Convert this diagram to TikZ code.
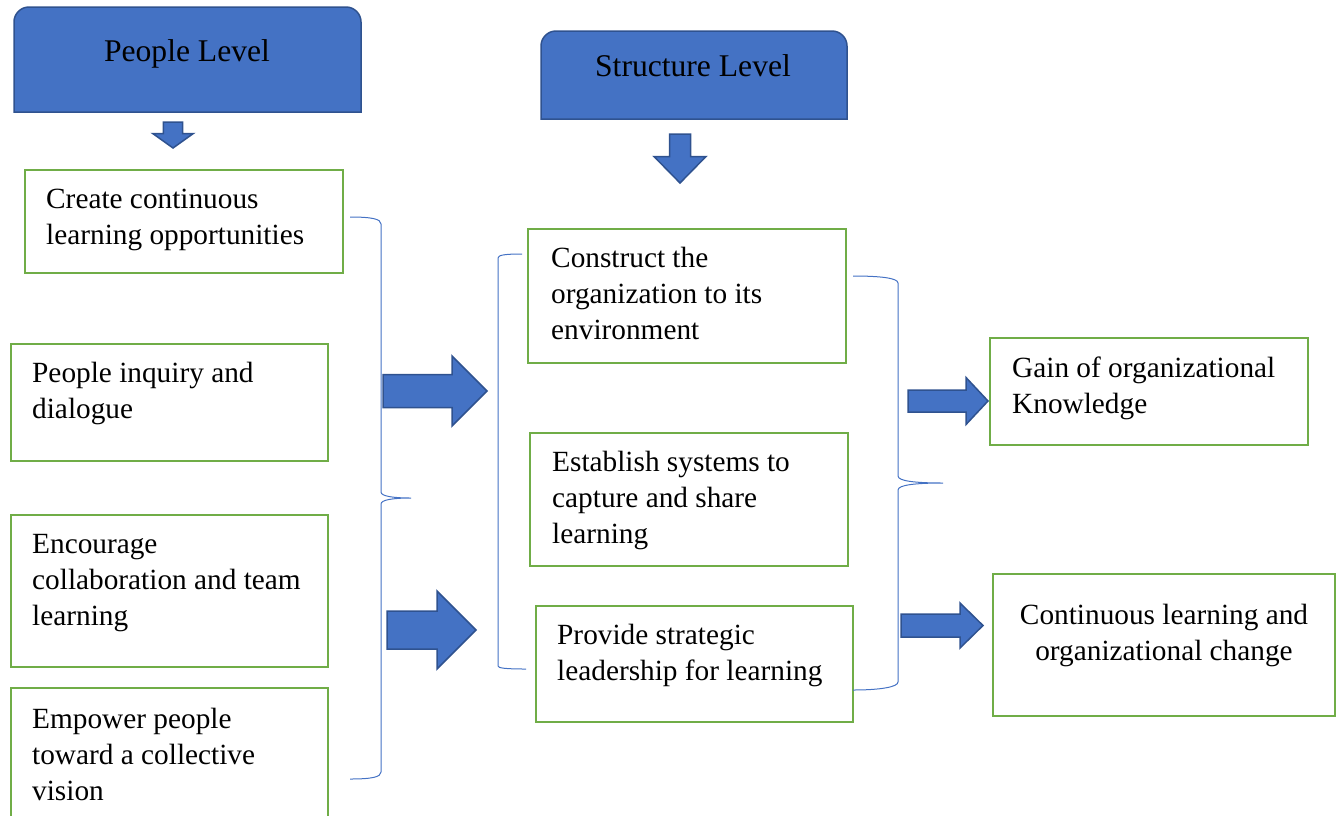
\documentclass[tikz,border=0pt]{standalone}
\usepackage{fontspec}
\setmainfont{Liberation Serif}
\definecolor{hdrblue}{HTML}{4472C4}
\definecolor{hdredge}{HTML}{2F528F}
\definecolor{boxgreen}{HTML}{70AD47}
\tikzset{
  hdr/.style={fill=hdrblue,draw=hdredge,line width=1.5pt},
  hdrtxt/.style={inner sep=0pt,font=\rmfamily\fontsize{31.6}{38}\selectfont},
  gbox/.style={draw=boxgreen,line width=2.5pt,inner sep=0pt},
  txt/.style={inner sep=0pt,align=left,anchor=base west,font=\rmfamily\fontsize{29.3}{36}\selectfont},
  brc/.style={draw=hdrblue,line width=1pt},
  blk/.style={fill=hdrblue,draw=hdredge,line width=1.5pt,line join=miter},
}

\begin{document}
\begin{tikzpicture}[x=1pt,y=-1pt]
    \useasboundingbox (0,0) rectangle (1340,815);
    \clip (0,0) rectangle (1340,815);
    % level headers
    \draw[hdr] (14,112) [rounded corners=15pt] -- (14,7) -- (361,7) [sharp corners] -- (361,112) -- cycle;
    \draw[hdr] (541,119) [rounded corners=15pt] -- (541,31) -- (847,31) [sharp corners] -- (847,119) -- cycle;
    \node[hdrtxt,anchor=base] (people) at (187,61.7) {People Level};
    \node[hdrtxt,anchor=base] (structure) at (693,76) {Structure Level};
    % down arrows
    \foreach \x/\y/\l/\hl/\s/\h in {173/122/26/14.5/9.7/20.3, 680/134/49/26.5/10.5/26} {
        \draw[blk] (\x-\s,\y) -- (\x+\s,\y) -- (\x+\s,\y+\l-\hl) -- (\x+\h,\y+\l-\hl)
          -- (\x,\y+\l) -- (\x-\h,\y+\l-\hl) -- (\x-\s,\y+\l-\hl) -- cycle;
      }
    % green boxes
    \foreach \n/\x/\y/\w/\h in {b1/184/221.5/318/103, b2/169.5/402.5/317/117,
        b3/169.5/591/317/152, b4/169.5/759/317/142, b5/687/296/318/134,
        b6/689/499.5/318/133, b7/694.5/664/317/116, b8/1149/391.5/318/107,
        b9/1164/645/342/142} {
        \node[gbox,minimum width=\w pt,minimum height=\h pt] (\n) at (\x,\y) {};
      }
    % texts, placed by the baseline of their last line
    \node[txt] (t1) at (46,244) {Create continuous\\learning opportunities};
    \node[txt] (t2) at (32,418) {People inquiry and\\dialogue};
    \node[txt] (t3) at (32,625) {Encourage\\collaboration and team\\learning};
    \node[txt] (t4) at (32,800) {Empower people\\toward a collective\\vision};
    \node[txt] (t5) at (551,339.5) {Construct the\\organization to its\\environment};
    \node[txt] (t6) at (552,543) {Establish systems to\\capture and share\\learning};
    \node[txt] (t7) at (557,680) {Provide strategic\\leadership for learning};
    \node[txt] (t8) at (1012,413) {Gain of organizational\\Knowledge};
    \node[txt,align=center,anchor=base] (t9) at (1164,660.5) {Continuous learning and\\organizational change};
    % braces
    \draw[brc] (350,217) .. controls (372,217) and (381,219) .. (381,224) -- (381,492)
      .. controls (381,496) and (392,498) .. (411,498) .. controls (392,498) and (381,500) .. (381,504)
      -- (381,772) .. controls (381,777) and (372,779) .. (350,779);
    \draw[brc] (522,254) .. controls (505,254) and (498,255) .. (498,258) -- (498,666)
      .. controls (498,668) and (505,669) .. (526,669);
    \draw[brc] (853,276) .. controls (880,276) and (898,278) .. (898,283) -- (898,476)
      .. controls (898,481) and (915,483) .. (943,483) .. controls (915,483) and (898,485) .. (898,490)
      -- (898,682) .. controls (898,687) and (880,690) .. (853,690);
    % right arrows
    \foreach \x/\y/\l/\hl/\s/\h in {383/391/104/35/16.5/35, 387/630/89/39/19/39,
        908/401/80/22/11/23.5, 901/625.5/82/23/11.5/22.5} {
        \draw[blk] (\x,\y-\s) -- (\x+\l-\hl,\y-\s) -- (\x+\l-\hl,\y-\h) -- (\x+\l,\y)
          -- (\x+\l-\hl,\y+\h) -- (\x+\l-\hl,\y+\s) -- (\x,\y+\s) -- cycle;
      }
  \end{tikzpicture}
\end{document}
